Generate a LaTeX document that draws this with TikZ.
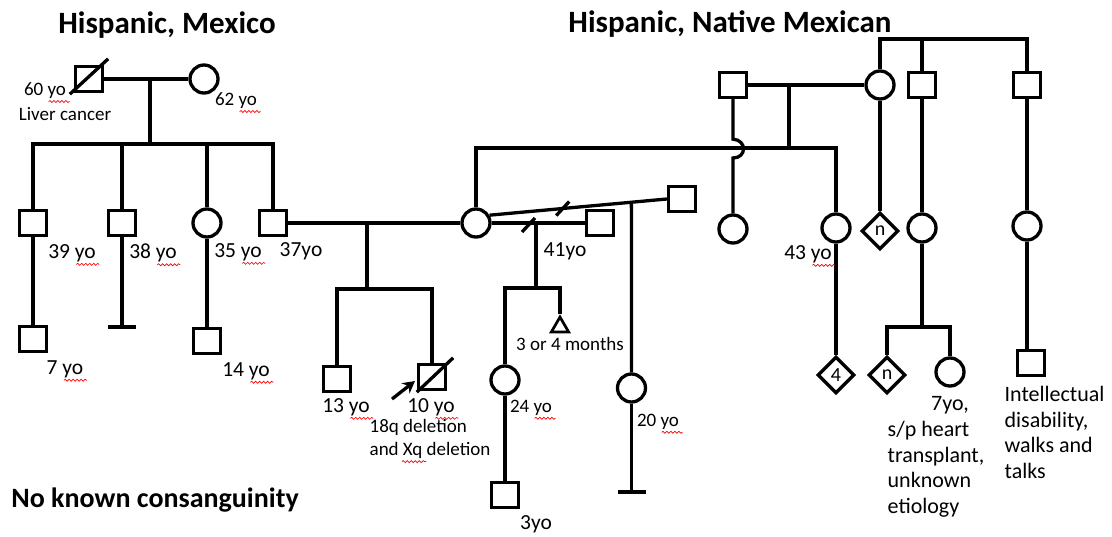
\documentclass[tikz,border=0pt]{standalone}
\usepackage{fontspec}
\setmainfont{Carlito}
\usetikzlibrary{shapes.geometric,arrows.meta,decorations.pathmorphing,calc}

% red spell-check wave under the last word of a label
\newcommand\wavy[2][21]{\draw[spell] ([xshift=-#1pt,yshift=-1pt]#2.south east) -- ([xshift=2pt,yshift=-1pt]#2.south east);}

\begin{document}
\begin{tikzpicture}[x=1pt,y=-1pt,line width=3.3pt,
  male/.style={draw,rectangle,minimum width=27pt,minimum height=25pt,inner sep=0pt},
  female/.style={draw,circle,minimum size=28pt,inner sep=0pt},
  unknown/.style={draw,diamond,minimum size=37pt,inner sep=0pt,font=\fontsize{20}{22}\selectfont},
  pregnancy/.style={draw,regular polygon,regular polygon sides=3,minimum size=20pt,inner sep=0pt,line width=2.7pt},
  age/.style={inner sep=0pt,font=\fontsize{21.5}{25}\selectfont},
  smallage/.style={inner sep=0pt,font=\fontsize{19}{23}\selectfont},
  note/.style={inner sep=0pt,align=left,font=\fontsize{22}{25.5}\selectfont},
  heading/.style={inner sep=0pt,font=\bfseries\fontsize{31}{37}\selectfont},
  spell/.style={draw=red,line width=0.7pt,decorate,decoration={snake,amplitude=1pt,segment length=4pt}}]
  \useasboundingbox (0,0) rectangle (1112,536);

  % Headings
  \node[heading] (hleft) at (167,25) {Hispanic, Mexico};
  \node[heading] (hright) at (730,24) {Hispanic, Native Mexican};
  \node[heading,font=\bfseries\fontsize{28}{34}\selectfont] (hcons) at (155,500) {No known consanguinity};

  % Draw the paternal grandparents
  \node[male] (pgf) at (89,79) {};
  \node[female] (pgm) at (204,79) {};
  \draw ([xshift=-4pt,yshift=-1pt]pgf.south west) -- ([xshift=4pt,yshift=6pt]pgf.north east);
  \draw (pgf) -- (pgm);
  \node[smallage] (l60) at (45,91) {60 yo};
  \node[smallage] (lcancer) at (65,114) {Liver cancer};
  \node[smallage] (l62) at (236,101) {62 yo};
  \coordinate (pgc) at (150,79);
  \coordinate (pgs) at (150,144);
  \draw (pgc) -- (pgs);

  % Draw the paternal sibship
  \node[male] (u39) at (33,223) {};
  \node[male] (u38) at (122,223) {};
  \node[female] (a35) at (207,223) {};
  \node[male] (dad) at (273,223) {};
  \draw (u39.north) |- (pgs) -| (dad.north);
  \draw (u38.north) -- (u38 |- pgs);
  \draw (a35.north) -- (a35 |- pgs);
  \node[age] (l39) at (72,253) {39 yo};
  \node[age] (l38) at (153,253) {38 yo};
  \node[age] (l35) at (238,252) {35 yo};
  \node[age] (l37) at (301,251) {37yo};

  % Draw the cousins
  \node[male] (c7) at (33,339) {};
  \draw (u39) -- (c7);
  \node[age] (l7) at (65,369) {7 yo};
  \coordinate (nokids) at (122,327);
  \draw (u38) -- (nokids);
  \draw ([xshift=-14pt]nokids) -- ([xshift=14pt]nokids);
  \node[male] (c14) at (207,341) {};
  \draw (a35) -- (c14);
  \node[age] (l14) at (246,371) {14 yo};

  % Draw the mother and her partners
  \node[female] (mom) at (476,223) {};
  \draw (dad) -- (mom);
  \node[male] (p41) at (600,223) {};
  \draw (mom) -- (p41);
  \coordinate (split1) at (528,224);
  \draw ([xshift=-6pt,yshift=-8pt]split1) -- ([xshift=7pt,yshift=6pt]split1);
  \node[age] (l41) at (565,251) {41yo};
  \node[male] (p3) at (682,199) {};
  \draw (mom.30) -- (p3.west);
  \coordinate (split2) at ($(mom.30)!0.41!(p3.west)$);
  \draw ([xshift=-6pt,yshift=-7pt]split2) -- ([xshift=7pt,yshift=7pt]split2);

  % Draw the children with the father
  \coordinate (fc) at (367,223);
  \coordinate (fs) at (367,289);
  \draw (fc) -- (fs);
  \node[male] (b13) at (337,379) {};
  \node[male] (b10) at (432,377) {};
  \draw (b13.north) |- (fs) -| (b10.north);
  \draw ([yshift=-1pt]b10.south west) -- ([xshift=6pt,yshift=5pt]b10.north east);
  \coordinate (ptail) at (392,399);
  \coordinate (ptip) at (415,381);
  \draw[-{Stealth[length=12pt,width=13pt]}] (ptail) -- (ptip);
  \node[age] (l13) at (346,407) {13 yo};
  \node[age] (l10) at (431,407) {10 yo};
  \node[smallage,align=left,anchor=north west] (del) at (368,418) {18q deletion\\and Xq deletion};

  % Draw the children with the 41yo partner
  \coordinate (mc) at (536,223);
  \coordinate (ms) at (536,288);
  \draw (mc) -- (ms);
  \node[female] (s24) at (505,380) {};
  \node[pregnancy] (sab) at (560,327) {};
  \draw (s24.north) |- (ms) -| (sab.north);
  \node[smallage] (lsab) at (570,344) {3 or 4 months};
  \node[smallage] (l24) at (531,408) {24 yo};
  \node[male] (n3) at (505,495) {};
  \draw (s24) -- (n3);
  \node[age] (l3) at (536,524) {3yo};

  % Draw the child with the other partner
  \coordinate (tc) at ($(mom.30)!0.8!(p3.west)$);
  \node[female] (s20) at (631.5,388) {};
  \draw (tc) -- (s20);
  \coordinate (nokids2) at (631.5,492);
  \draw (s20) -- (nokids2);
  \draw ([xshift=-14pt]nokids2) -- ([xshift=14pt]nokids2);
  \node[smallage] (l20) at (658,422) {20 yo};

  % Draw the maternal grandparents and great-uncles
  \node[male] (mgf) at (733,85) {};
  \node[female] (mgm) at (880,85) {};
  \node[male] (gu1) at (922,85) {};
  \node[male] (gu2) at (1027,85) {};
  \draw (mgf) -- (mgm);
  \coordinate (top) at (922,39);
  \draw (mgm.north) |- (top) -| (gu2.north);
  \draw (gu1.north) -- (top);
  \coordinate (mgc) at (789,85);
  \coordinate (mgs) at (789,148);
  \draw (mgc) -- (mgs);

  % Draw the maternal sibship
  \node[female] (a43) at (836,228) {};
  \draw (mom.north) |- (mgs) -| (a43.north);
  \node[age] (l43) at (808,254) {43 yo};
  \node[female] (hs) at (733,229) {};
  \draw (mgf.south) -- ++(0,40) .. controls (747,140) and (747,158) .. (733,158) -- (hs.north);
  \node[unknown] (hn) at (880,231) {n};
  \draw (mgm) -- (hn);
  \node[female] (gc1) at (922,228) {};
  \draw (gu1) -- (gc1);
  \node[female] (gc2) at (1027,226) {};
  \draw (gu2) -- (gc2);

  % Draw the bottom generation on the right
  \node[unknown] (k4) at (836,375) {4};
  \draw (a43) -- (k4);
  \coordinate (gcs) at (922,327);
  \draw (gc1) -- (gcs);
  \node[unknown] (kn) at (887,375) {n};
  \node[female] (k7) at (950,372) {};
  \draw (kn.north) |- (gcs) -| (k7.north);
  \node[note,anchor=base] (l7yo) at (950,410) {7yo,};
  \node[note,anchor=north west] (lheart) at (886,420) {s/p heart\\transplant,\\unknown\\etiology};
  \node[male] (kid) at (1031,363) {};
  \draw (gc2) -- (gc2 |- kid.north);
  \node[note,anchor=north west] (lid) at (1003,385) {Intellectual\\disability,\\walks and\\talks};

  % Spell-check marks
  \wavy[19]{l60}
  \wavy[19]{l62}
  \wavy{l39}
  \wavy{l38}
  \wavy{l35}
  \wavy{l7}
  \wavy{l14}
  \wavy{l13}
  \wavy{l10}
  \wavy[19]{l24}
  \wavy[19]{l20}
  \wavy{l43}
  \draw[spell] ([xshift=34pt,yshift=-1pt]del.south west) -- ([xshift=58pt,yshift=-1pt]del.south west);
\end{tikzpicture}
\end{document}
